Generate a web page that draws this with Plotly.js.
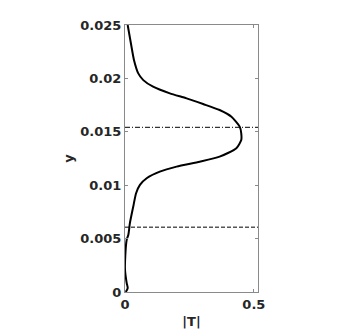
<!DOCTYPE html>
<html>
<head>
<meta charset="utf-8">
<script src="https://cdn.plot.ly/plotly-3.0.1.min.js"></script>
<style>
  html, body { margin: 0; padding: 0; background: #fff; }
  #chart { width: 359px; height: 330px; }
</style>
</head>
<body>
<div id="chart"></div>
<script>
// |T| profile
const magT = [0.0104, 0.023, 0.035, 0.0515, 0.071, 0.109, 0.174, 0.239, 0.303, 0.367, 0.413, 0.445,
              0.451, 0.451, 0.432, 0.367, 0.29, 0.2, 0.135, 0.084, 0.058, 0.043, 0.032, 0.019, 0.013,
              0.0065, 0.001, 0, 0.0065, 0.0104, 0.003];
const yVals = [0.025, 0.02327, 0.0217, 0.02047, 0.01984, 0.01922, 0.0186, 0.01813, 0.0176, 0.01704, 0.01641, 0.01548,
               0.01486, 0.01423, 0.01346, 0.01267, 0.0122, 0.01174, 0.01127, 0.01065, 0.01003, 0.00925, 0.008, 0.00645, 0.00536,
               0.00489, 0.00333, 0.00208, 0.00084, 0.00037, 0];

// reference levels
const levelDashDot = 0.01542;
const levelDash = 0.00607;

const xRange = [0, 0.516];
const xTicks = [0, 0.5];
const yTicks = [0, 0.005, 0.01, 0.015, 0.02, 0.025];

const traces = [
  {
    x: xRange, y: [levelDashDot, levelDashDot],
    mode: 'lines', type: 'scatter',
    line: { color: '#000', width: 1, dash: '5px,2px,1px,2px' },
    hoverinfo: 'skip'
  },
  {
    x: xRange, y: [levelDash, levelDash],
    mode: 'lines', type: 'scatter',
    line: { color: '#000', width: 1, dash: '4px,2px' },
    hoverinfo: 'skip'
  },
  {
    x: magT, y: yVals,
    mode: 'lines', type: 'scatter',
    line: { color: '#000', width: 2, shape: 'spline', smoothing: 0.6 }
  }
];

const axisFont = { family: 'DejaVu Sans, sans-serif', size: 13, color: '#262626', weight: 'bold' };

const layout = {
  width: 359, height: 330,
  margin: { l: 125, r: 101, t: 25, b: 38 },
  paper_bgcolor: '#fff', plot_bgcolor: '#fff',
  showlegend: false,
  font: axisFont,
  xaxis: {
    range: xRange, tickvals: xTicks, ticktext: ['0', '0.5'],
    showgrid: false, zeroline: false,
    showline: true, mirror: 'ticks', linecolor: '#8a8a8a', linewidth: 1,
    ticks: 'inside', ticklen: 3, tickcolor: '#8a8a8a',
    tickfont: axisFont,
    title: { text: '|T|', font: axisFont, standoff: 6 }
  },
  yaxis: {
    range: [0, 0.025], tickvals: yTicks,
    ticktext: ['0', '0.005', '0.01', '0.015', '0.02', '0.025'],
    showgrid: false, zeroline: false,
    showline: true, mirror: 'ticks', linecolor: '#8a8a8a', linewidth: 1,
    ticks: 'inside', ticklen: 3, tickcolor: '#8a8a8a',
    tickfont: axisFont,
    title: { text: 'y', font: axisFont, standoff: 3 }
  }
};

Plotly.newPlot('chart', traces, layout, { displayModeBar: false, staticPlot: true });
</script>
</body>
</html>
